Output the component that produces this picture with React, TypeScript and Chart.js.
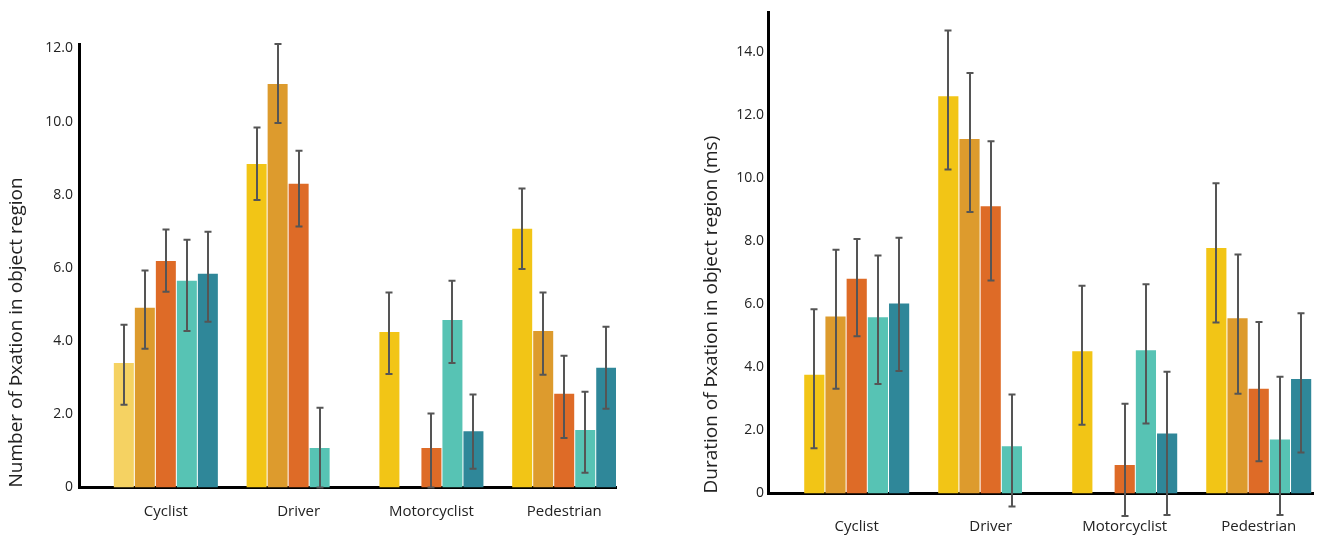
import { useEffect, useRef } from 'react';
import { Chart, registerables } from 'chart.js';
Chart.register(...registerables);

const categories = ['Cyclist', 'Driver', 'Motorcyclist', 'Pedestrian'];
const seriesNames = ['Group 1', 'Group 2', 'Group 3', 'Group 4', 'Group 5'];

// Left chart: number of fixations
const countMean1 = [3.40, 8.84, 4.25, 7.07];
const countMean2 = [4.91, 11.03, null, 4.28];
const countMean3 = [6.19, 8.30, 1.08, 2.56];
const countMean4 = [5.65, 1.08, 4.58, 1.57];
const countMean5 = [5.84, null, 1.54, 3.27];
const countLow1 = [2.26, 7.86, 3.10, 5.97];
const countLow2 = [3.79, 9.96, null, 3.08];
const countLow3 = [5.35, 7.13, 0, 1.35];
const countLow4 = [4.28, 0, 3.40, 0.40];
const countLow5 = [4.53, null, 0.51, 2.15];
const countHigh1 = [4.45, 9.84, 5.33, 8.17];
const countHigh2 = [5.93, 12.12, null, 5.33];
const countHigh3 = [7.05, 9.20, 2.02, 3.60];
const countHigh4 = [6.77, 2.18, 5.65, 2.62];
const countHigh5 = [6.99, null, 2.54, 4.39];

// Right chart: duration of fixations (ms)
const durMean1 = [3.76, 12.58, 4.51, 7.78];
const durMean2 = [5.61, 11.23, null, 5.55];
const durMean3 = [6.80, 9.10, 0.90, 3.32];
const durMean4 = [5.58, 1.50, 4.54, 1.71];
const durMean5 = [6.02, null, 1.90, 3.63];
const durLow1 = [1.43, 10.26, 2.18, 5.42];
const durLow2 = [3.32, 8.92, null, 3.16];
const durLow3 = [4.98, 6.75, -0.71, 1.02];
const durLow4 = [3.47, -0.41, 2.22, -0.68];
const durLow5 = [3.88, null, -0.68, 1.30];
const durHigh1 = [5.84, 14.67, 6.58, 9.83];
const durHigh2 = [7.72, 13.32, null, 7.57];
const durHigh3 = [8.06, 11.16, 2.84, 5.43];
const durHigh4 = [7.54, 3.14, 6.63, 3.70];
const durHigh5 = [8.10, null, 3.86, 5.71];

const leftTicks = [0, 2, 4, 6, 8, 10, 12];
const rightTicks = [0, 2, 4, 6, 8, 10, 12, 14];

const COLORS = ['#F2C516', '#DD9B2D', '#DE6B27', '#57C3B4', '#2F8799'];
const CYCLIST_LIGHT_YELLOW = '#F5D262';
const FONT = "'Open Sans', 'Noto Sans', sans-serif";

const errorBarPlugin = {
  id: 'errorBars',
  afterDatasetsDraw(chart: any) {
    const ctx = chart.ctx;
    const yScale = chart.scales.y;
    ctx.save();
    ctx.strokeStyle = '#555555';
    ctx.lineWidth = 2;
    chart.data.datasets.forEach((ds: any, d: number) => {
      const meta = chart.getDatasetMeta(d);
      meta.data.forEach((el: any, i: number) => {
        const lo = ds.errLow[i];
        const hi = ds.errHigh[i];
        if (lo == null || hi == null || ds.data[i].y == null) return;
        const x = Math.round(el.x);
        const yt = yScale.getPixelForValue(hi);
        const yb = yScale.getPixelForValue(lo);
        ctx.beginPath();
        ctx.moveTo(x, yt);
        ctx.lineTo(x, yb);
        ctx.moveTo(x - 3.5, yt);
        ctx.lineTo(x + 3.5, yt);
        ctx.moveTo(x - 3.5, yb);
        ctx.lineTo(x + 3.5, yb);
        ctx.stroke();
      });
    });
    ctx.restore();
  },
};

type Cfg = {
  means: (number | null)[][];
  lows: (number | null)[][];
  highs: (number | null)[][];
  yTicks: number[];
  yMax: number;
  xMin: number;
  xMax: number;
  title: string;
  yWidth: number;
  xHeight: number;
  padTop: number;
  padRight: number;
  tickPad: number;
  labelPad: number;
  lightFirst: boolean;
};

function CanvasChart({ cfg, width }: { cfg: Cfg; width: number }) {
  const ref = useRef<HTMLCanvasElement>(null);
  useEffect(() => {
    if (!ref.current) return;
    const datasets = cfg.means.map((m, d) => ({
      label: seriesNames[d],
      data: m.map((y, i) => ({ x: i, y })),
      errLow: cfg.lows[d],
      errHigh: cfg.highs[d],
      backgroundColor: m.map((_, i) =>
        d === 0 && i === 0 && cfg.lightFirst ? CYCLIST_LIGHT_YELLOW : COLORS[d]
      ),
      borderWidth: 0,
      categoryPercentage: 0.791,
      barPercentage: 0.952,
    }));
    const chart = new Chart(ref.current, {
      type: 'bar',
      data: { datasets } as any,
      plugins: [errorBarPlugin],
      options: {
        animation: false,
        responsive: false,
        maintainAspectRatio: false,
        devicePixelRatio: 1,
        layout: { padding: { top: cfg.padTop, right: cfg.padRight, left: 0, bottom: 0 } },
        plugins: { legend: { display: false }, tooltip: { enabled: false } },
        scales: {
          x: {
            type: 'linear',
            min: cfg.xMin,
            max: cfg.xMax,
            offset: false,
            grid: { display: false, drawTicks: false, offset: false },
            border: { display: true, color: '#000', width: 3 },
            afterBuildTicks: (s: any) => {
              s.ticks = categories.map((_, i) => ({ value: i }));
            },
            afterFit: (s: any) => {
              s.height = cfg.xHeight;
            },
            ticks: {
              autoSkip: false,
              maxRotation: 0,
              padding: cfg.labelPad,
              color: '#222',
              font: { family: FONT, size: 15 },
              callback: (v: any) => categories[v] ?? '',
            },
          },
          y: {
            type: 'linear',
            min: 0,
            max: cfg.yMax,
            grid: { display: false, drawTicks: false },
            border: { display: true, color: '#000', width: 3 },
            afterBuildTicks: (s: any) => {
              s.ticks = cfg.yTicks.map((v) => ({ value: v }));
            },
            afterFit: (s: any) => {
              s.width = cfg.yWidth;
            },
            ticks: {
              padding: cfg.tickPad,
              color: '#222',
              font: { family: FONT, size: 14 },
              callback: (v: any) => (v === 0 ? '0' : Number(v).toFixed(1)),
            },
            title: {
              display: true,
              text: cfg.title,
              align: 'start',
              color: '#222',
              padding: { top: 5, bottom: 0 },
              font: { family: FONT, size: 19 },
            },
          },
        },
      } as any,
    });
    return () => chart.destroy();
  }, [cfg, width]);
  return <canvas ref={ref} width={width} height={539} style={{ display: 'block' }} />;
}

const leftCfg: Cfg = {
  means: [countMean1, countMean2, countMean3, countMean4, countMean5],
  lows: [countLow1, countLow2, countLow3, countLow4, countLow5],
  highs: [countHigh1, countHigh2, countHigh3, countHigh4, countHigh5],
  yTicks: leftTicks,
  yMax: 12.12,
  xMin: -0.654,
  xMax: 3.39,
  title: 'Number of Þxation in object region',
  yWidth: 79,
  xHeight: 51.5,
  padTop: 44,
  padRight: 24,
  tickPad: 6,
  labelPad: 15,
  lightFirst: true,
};

const rightCfg: Cfg = {
  means: [durMean1, durMean2, durMean3, durMean4, durMean5],
  lows: [durLow1, durLow2, durLow3, durLow4, durLow5],
  highs: [durHigh1, durHigh2, durHigh3, durHigh4, durHigh5],
  yTicks: rightTicks,
  yMax: 15.24,
  xMin: -0.662,
  xMax: 3.405,
  title: 'Duration of Þxation in object region (ms)',
  yWidth: 73,
  xHeight: 45.5,
  padTop: 8.6,
  padRight: 18,
  tickPad: 4,
  labelPad: 24,
  lightFirst: false,
};

function Placed({ cfg, left, width }: { cfg: Cfg; left: number; width: number }) {
  return (
    <div style={{ position: 'absolute', left, top: 0, width, height: 539 }}>
      <CanvasChart cfg={cfg} width={width} />
    </div>
  );
}

export default function App() {
  return (
    <div style={{ position: 'fixed', left: 0, top: 0, width: 1331, height: 539, background: '#fff' }}>
      <Placed cfg={leftCfg} left={0} width={640} />
      <Placed cfg={rightCfg} left={695} width={636} />
    </div>
  );
}
